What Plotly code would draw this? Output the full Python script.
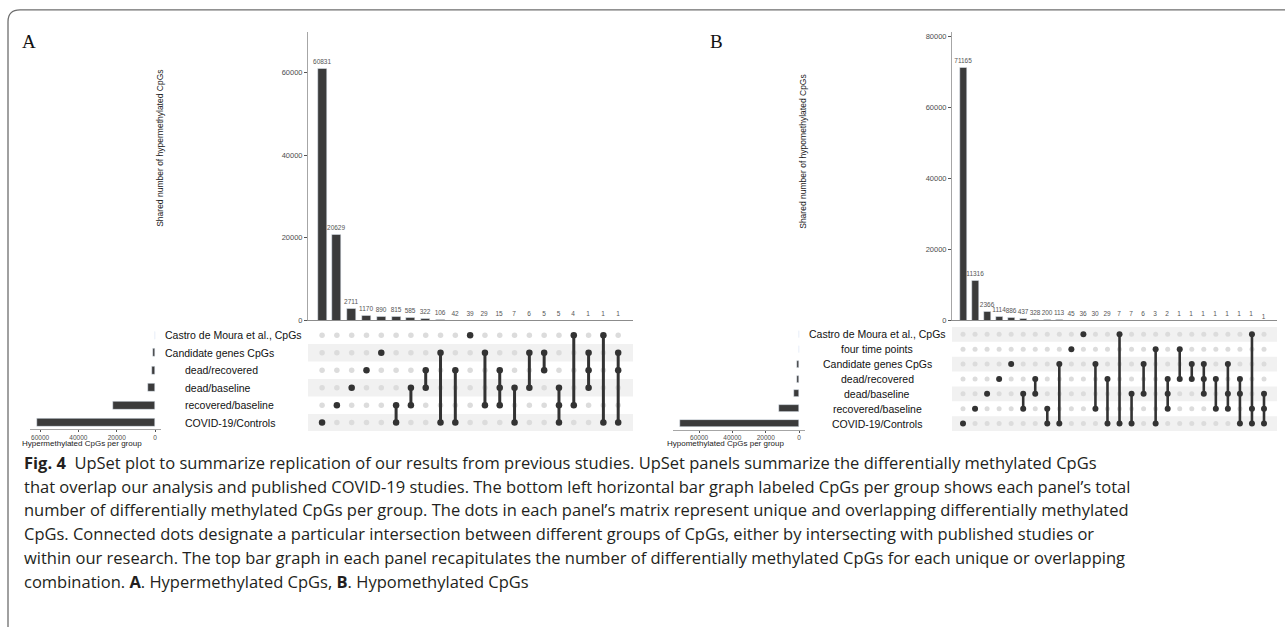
import plotly.graph_objects as go

W, H = 1285, 630

# ---------------- DATA ----------------
A_sets = ["Castro de Moura et al., CpGs", "Candidate genes CpGs", "dead/recovered",
          "dead/baseline", "recovered/baseline", "COVID-19/Controls"]
A_set_sizes = [44, 1038, 1556, 3652, 22082, 61808]
A_counts = [60831, 20629, 2711, 1170, 890, 815, 585, 322, 106, 42, 39, 29, 15, 7, 6, 5, 5, 4, 1, 1, 1]
A_members = [[5], [4], [3], [2], [1], [4, 5], [3, 4], [2, 3], [1, 5], [2, 5], [0], [1, 4],
             [2, 3, 4], [3, 5], [1, 3], [1, 2], [3, 4, 5], [0, 4], [1, 2, 3], [0, 5], [1, 2, 5]]

B_sets = ["Castro de Moura et al., CpGs", "four time points", "Candidate genes CpGs",
          "dead/recovered", "dead/baseline", "recovered/baseline", "COVID-19/Controls"]
B_set_sizes = [44, 49, 1038, 1478, 3150, 11989, 71527]
B_counts = [71165, 11316, 2366, 1114, 886, 437, 328, 200, 113, 45, 36, 30, 29, 7, 7, 6, 3, 2,
            1, 1, 1, 1, 1, 1, 1, 1]
B_members = [[6], [5], [4], [3], [2], [4, 5], [3, 4], [5, 6], [2, 6], [1], [0], [2, 5], [3, 6],
             [0, 6], [4, 6], [2, 4], [1, 6], [3, 4, 5], [1, 3], [2, 3], [2, 3, 4], [3, 5],
             [2, 4, 5], [3, 4, 6], [0, 5, 6], [4, 5, 6]]

A_ticks = [0, 20000, 40000, 60000]
B_ticks = [0, 20000, 40000, 60000, 80000]
set_ticks = [0, 20000, 40000, 60000]

caption_lines = [
    "<b>Fig. 4</b>\u00a0\u00a0UpSet plot to summarize replication of our results from previous studies. UpSet panels summarize the differentially methylated CpGs",
    "that overlap our analysis and published COVID-19 studies. The bottom left horizontal bar graph labeled CpGs per group shows each panel\u2019s total",
    "number of differentially methylated CpGs per group. The dots in each panel\u2019s matrix represent unique and overlapping differentially methylated",
    "CpGs. Connected dots designate a particular intersection between different groups of CpGs, either by intersecting with published studies or",
    "within our research. The top bar graph in each panel recapitulates the number of differentially methylated CpGs for each unique or overlapping",
    "combination. <b>A</b>. Hypermethylated CpGs, <b>B</b>. Hypomethylated CpGs",
]

# ---------------- HELPERS ----------------
def px(x):
    return x / W

def py(y):
    return 1 - y / H

BAR = "#3b3b3b"
DOT = "#333333"
GREY_DOT = "#dcdcdc"
SHADE = "#f1f1f1"
TXT = "#4d4d4d"
FONT = "Liberation Sans, Arial, sans-serif"

fig = go.Figure()
shapes = []
annotations = []


def panel(sets, set_sizes, counts, members, ax, geo):
    xa, ya, xm, ym, xs, ys = ax
    n = len(sets)
    ncol = len(counts)
    cols = list(range(1, ncol + 1))
    rowy = [n - 1 - r for r in range(n)]
    # top bars
    fig.add_trace(go.Bar(x=cols, y=counts, width=geo["bw"], marker_color=BAR,
                         text=[str(c) for c in counts], textposition="outside",
                         textfont=dict(size=6.5, color="#555555", family=FONT),
                         cliponaxis=False, constraintext="none",
                         xaxis=xa, yaxis=ya, hoverinfo="skip"))
    # background dots
    bx, by = [], []
    for c in cols:
        for r in range(n):
            bx.append(c)
            by.append(rowy[r])
    fig.add_trace(go.Scatter(x=bx, y=by, mode="markers",
                             marker=dict(size=geo["gd"], color=GREY_DOT),
                             xaxis=xm, yaxis=ym, hoverinfo="skip"))
    # lines
    lx, ly = [], []
    for c, mem in zip(cols, members):
        if len(mem) > 1:
            lx += [c, c, None]
            ly += [rowy[min(mem)], rowy[max(mem)], None]
    fig.add_trace(go.Scatter(x=lx, y=ly, mode="lines",
                             line=dict(color=DOT, width=geo["lw"]),
                             xaxis=xm, yaxis=ym, hoverinfo="skip"))
    # active dots
    dx, dy = [], []
    for c, mem in zip(cols, members):
        for r in mem:
            dx.append(c)
            dy.append(rowy[r])
    fig.add_trace(go.Scatter(x=dx, y=dy, mode="markers",
                             marker=dict(size=geo["dd"], color=DOT),
                             xaxis=xm, yaxis=ym, hoverinfo="skip"))
    # set size bars
    fig.add_trace(go.Bar(x=set_sizes, y=rowy, orientation="h", width=geo["sw"],
                         marker_color=BAR, xaxis=xs, yaxis=ys, hoverinfo="skip"))
    # shading
    for r in range(n):
        if (n - 1 - r) % 2 == 0:
            shapes.append(dict(type="rect", xref=xm + " domain", yref=ym,
                               x0=0, x1=1, y0=rowy[r] - 0.5, y1=rowy[r] + 0.5,
                               fillcolor=SHADE, line_width=0, layer="below"))
    # set labels
    for r in range(n):
        lab = geo["labels"][r]
        annotations.append(dict(text=sets[r], x=px(lab[0]), xref="paper", xanchor=lab[1],
                                y=rowy[r], yref=ym, yanchor="middle", showarrow=False,
                                font=dict(size=geo["lf"], color="#111111", family=FONT)))


geoA = dict(bw=0.6, gd=5.5, dd=6.5, lw=3, sw=0.46, lf=10.5,
            labels=[(163, "left"), (163, "left"), (183, "left"), (183, "left"), (183, "left"), (183, "left")])
geoB = dict(bw=0.58, gd=5, dd=6, lw=2.6, sw=0.47, lf=10.5,
            labels=[(877, "center")] * 7)

panel(A_sets, A_set_sizes, A_counts, A_members, ("x", "y", "x2", "y2", "x3", "y3"), geoA)
panel(B_sets, B_set_sizes, B_counts, B_members, ("x4", "y4", "x5", "y5", "x6", "y6"), geoB)

tickfont = dict(size=7.5, color=TXT, family=FONT)
stickfont = dict(size=6.5, color=TXT, family=FONT)
hidden = dict(visible=False, showgrid=False, zeroline=False)


def valaxis(ticks, font, tl=3):
    return dict(showline=True, linecolor="#a6a6a6", linewidth=1, ticks="outside", ticklen=tl,
                tickcolor="#555", tickvals=ticks, ticktext=[str(t) for t in ticks],
                tickfont=font, showgrid=False, zeroline=False)


layout_axes = dict(
    # Panel A
    xaxis=dict(domain=[px(308), px(633)], range=[0.05, 22.0], anchor="y", showline=True,
               linecolor="#8c8c8c", linewidth=1, showticklabels=False, ticks="", showgrid=False,
               zeroline=False),
    yaxis=dict(domain=[py(323), py(32)], range=[0, 69900], anchor="x", **valaxis(A_ticks, tickfont)),
    xaxis2=dict(domain=[px(308), px(633)], range=[0.05, 22.0], anchor="y2", **hidden),
    yaxis2=dict(domain=[py(434.8), py(329.2)], range=[-0.5, 5.5], anchor="x2", **hidden),
    xaxis3=dict(domain=[px(30), px(161)], range=[65274, -3133], anchor="free", position=py(432.5),
                **valaxis(set_ticks, stickfont, 2)),
    yaxis3=dict(domain=[py(434.8), py(329.2)], range=[-0.5, 5.5], anchor="x3", **hidden),
    # Panel B
    xaxis4=dict(domain=[px(952), px(1277)], range=[0.086, 27.08], anchor="y4", showline=True,
                linecolor="#8c8c8c", linewidth=1, showticklabels=False, ticks="", showgrid=False,
                zeroline=False),
    yaxis4=dict(domain=[py(323), py(32)], range=[0, 81400], anchor="x4", **valaxis(B_ticks, tickfont)),
    xaxis5=dict(domain=[px(952), px(1277)], range=[0.086, 27.08], anchor="y5", **hidden),
    yaxis5=dict(domain=[py(434.5), py(329.5)], range=[-0.5, 6.5], anchor="x5", **hidden),
    xaxis6=dict(domain=[px(673), px(805)], range=[75676, -3604], anchor="free", position=py(433),
                **valaxis(set_ticks, stickfont, 2)),
    yaxis6=dict(domain=[py(434.5), py(329.5)], range=[-0.5, 6.5], anchor="x6", **hidden),
)


def ann(text, x, y, size, family=FONT, color="#222", angle=0, xanchor="center"):
    return dict(text=text, x=px(x), y=py(y), xref="paper", yref="paper", textangle=angle,
                xanchor=xanchor, yanchor="middle", showarrow=False,
                font=dict(size=size, color=color, family=family))


annotations += [
    ann("Shared number of hypermethylated CpGs", 160, 150, 8.5, angle=-90),
    ann("Shared number of hypomethylated CpGs", 803, 153, 8.5, angle=-90),
    ann("Hypermethylated CpGs per group", 82, 447, 8),
    ann("Hypomethylated CpGs per group", 726, 447, 8),
    ann("A", 20, 42, 19, family="Liberation Serif, serif", color="#111", xanchor="left"),
    ann("B", 708, 42, 19, family="Liberation Serif, serif", color="#111", xanchor="left"),
]

cap_y = [466, 490, 514, 538, 562, 586]
for t, yy in zip(caption_lines, cap_y):
    annotations.append(ann(t, 22, yy, 16.5, family="Open Sans, sans-serif", color="#231f20",
                           xanchor="left"))

# frame
r = 12
shapes.append(dict(type="path", xref="paper", yref="paper",
                   path=f"M {px(8)} {py(632)} L {px(8)} {py(10 + r)} Q {px(8)} {py(10)} {px(8 + r)} {py(10)} L {px(1300)} {py(10)}",
                   line=dict(color="#6e6e6e", width=1.3)))

fig.update_layout(width=W, height=H, margin=dict(l=0, r=0, t=0, b=0),
                  paper_bgcolor="white", plot_bgcolor="rgba(0,0,0,0)",
                  showlegend=False, bargap=0, shapes=shapes, annotations=annotations,
                  **layout_axes)

fig.write_html("out.html")
